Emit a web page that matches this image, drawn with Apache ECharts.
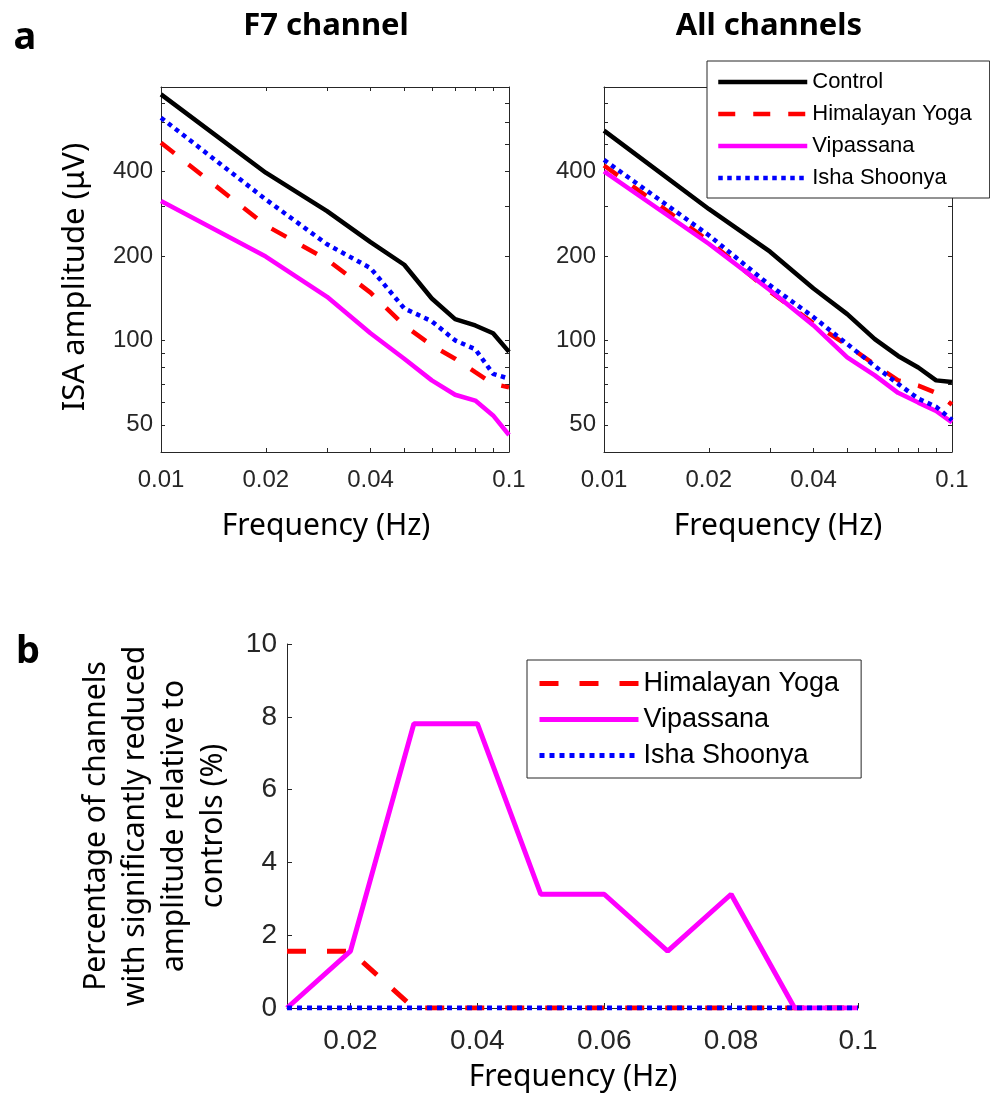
<!DOCTYPE html>
<html>
<head>
<meta charset="utf-8">
<script src="https://cdn.jsdelivr.net/npm/echarts@6/dist/echarts.min.js"></script>
<style>
  html, body { margin: 0; padding: 0; background: #fff; }
  #chart { width: 990px; height: 1098px; }
</style>
</head>
<body>
<div id="chart"></div>
<script>
const FREQS = [0.01, 0.02, 0.03, 0.04, 0.05, 0.06, 0.07, 0.08, 0.09, 0.1];

// a: ISA amplitude (uV), F7 channel
const F7_CONTROL   = [753, 396, 289, 224, 186, 141, 119, 113, 106, 91];
const F7_HIMALAYAN = [506, 257, 194, 148, 113, 96, 86, 77, 70, 68];
const F7_VIPASSANA = [314, 199, 143, 106, 86, 72, 64, 61, 54, 46];
const F7_ISHA      = [622, 318, 220, 181, 130, 117, 100, 93, 76, 73];

// a: ISA amplitude (uV), all channels
const ALL_CONTROL   = [559, 294, 207, 153, 124, 101, 88, 80, 72, 71];
const ALL_HIMALAYAN = [420, 226, 149, 115, 96, 82, 72, 69, 65, 59];
const ALL_VIPASSANA = [400, 221, 151, 113, 87, 75, 65, 60, 56, 51];
const ALL_ISHA      = [440, 237, 157, 121, 97, 81, 70, 62, 58, 52];

// b: percentage of channels with significantly reduced amplitude
const PCT_HIMALAYAN = [1.5625, 1.5625, 0, 0, 0, 0, 0, 0, 0, 0];
const PCT_VIPASSANA = [0, 1.5625, 7.8125, 7.8125, 3.125, 3.125, 1.5625, 3.125, 0, 0];
const PCT_ISHA      = [0, 0, 0, 0, 0, 0, 0, 0, 0, 0];

// tick labels
const LOG_X_LABELS = [0.01, 0.02, 0.04, 0.1];
const LOG_Y_LABELS = [50, 100, 200, 400];
const LOG_Y_TICKS  = [50, 60, 70, 80, 90, 100, 200, 300, 400, 500, 600, 700, 800];
const PCT_X_LABELS = [0.02, 0.04, 0.06, 0.08, 0.1];

const AXIS_COLOR = '#262626';
const TICK_FONT = '"Liberation Sans", Arial, sans-serif';
const TEXT_FONT = '"Noto Sans", "Open Sans", sans-serif';

const pairs = ys => FREQS.map((f, i) => [f, ys[i]]);

function logX(gridIndex, position, showLabel) {
  return {
    type: 'log', logBase: 10, gridIndex, position, min: 0.01, max: 0.1,
    axisLine: { show: true, onZero: false, lineStyle: { color: AXIS_COLOR, width: 1 } },
    axisTick: { show: true, inside: true, length: 4, customValues: FREQS,
                lineStyle: { color: AXIS_COLOR } },
    axisLabel: { show: showLabel, customValues: LOG_X_LABELS, margin: 16,
                 fontSize: 24, fontFamily: TICK_FONT, color: AXIS_COLOR,
                 formatter: v => String(v) },
    splitLine: { show: false }
  };
}

function logY(gridIndex, position, showLabel) {
  return {
    type: 'log', logBase: 10, gridIndex, position, min: 40, max: 800,
    axisLine: { show: true, onZero: false, lineStyle: { color: AXIS_COLOR, width: 1 } },
    axisTick: { show: true, inside: true, length: 4, customValues: LOG_Y_TICKS,
                lineStyle: { color: AXIS_COLOR } },
    axisLabel: { show: showLabel, customValues: LOG_Y_LABELS, margin: 8,
                 fontSize: 24, fontFamily: TICK_FONT, color: AXIS_COLOR,
                 formatter: v => String(v) },
    splitLine: { show: false }
  };
}

const STYLE_A = {
  control:   { color: '#000000', width: 4.5, type: 'solid' },
  himalayan: { color: '#ff0000', width: 4.5, type: [17, 18] },
  vipassana: { color: '#ff00ff', width: 4.5, type: 'solid' },
  isha:      { color: '#0000ff', width: 4.5, type: [4.5, 4.5] }
};
const STYLE_B = {
  himalayan: { color: '#ff0000', width: 5, type: [19, 21] },
  vipassana: { color: '#ff00ff', width: 5, type: 'solid' },
  isha:      { color: '#0000ff', width: 5, type: [5, 5] }
};

function line(name, data, axisIndex, style) {
  return {
    name, type: 'line', data, xAxisIndex: axisIndex, yAxisIndex: axisIndex,
    symbol: 'none', showSymbol: false, color: style.color,
    lineStyle: { color: style.color, width: style.width, type: style.type, cap: 'butt' },
    emphasis: { disabled: true }, silent: true
  };
}

function text(str, x, y, opts) {
  const o = opts || {};
  return {
    type: 'text', x, y, rotation: o.rotation || 0, silent: true,
    style: {
      text: str, fill: '#000',
      font: (o.weight || 'normal') + ' ' + (o.size || 30) + 'px ' + (o.family || TEXT_FONT),
      lineHeight: o.lineHeight,
      align: o.align || 'center', textAlign: o.align || 'center',
      verticalAlign: 'middle', textVerticalAlign: 'middle'
    }
  };
}

const chart = echarts.init(document.getElementById('chart'));

chart.setOption({
  animation: false,
  backgroundColor: '#fff',
  grid: [
    { left: 161, top: 87, width: 348, height: 365 },
    { left: 604, top: 87, width: 348, height: 365 },
    { left: 287, top: 644, width: 571, height: 364 }
  ],
  xAxis: [
    logX(0, 'bottom', true),
    logX(1, 'bottom', true),
    {
      type: 'value', gridIndex: 2, position: 'bottom', min: 0.01, max: 0.1,
      axisLine: { show: true, onZero: false, lineStyle: { color: AXIS_COLOR, width: 1 } },
      axisTick: { show: true, inside: true, length: 5, customValues: PCT_X_LABELS,
                  lineStyle: { color: AXIS_COLOR } },
      axisLabel: { customValues: PCT_X_LABELS, margin: 19, fontSize: 28,
                   fontFamily: TICK_FONT, color: AXIS_COLOR, formatter: v => String(v) },
      splitLine: { show: false }
    },
    logX(0, 'top', false),
    logX(1, 'top', false)
  ],
  yAxis: [
    logY(0, 'left', true),
    logY(1, 'left', true),
    {
      type: 'value', gridIndex: 2, position: 'left', min: 0, max: 10, interval: 2,
      axisLine: { show: true, onZero: false, lineStyle: { color: AXIS_COLOR, width: 1 } },
      axisTick: { show: true, inside: true, length: 5, lineStyle: { color: AXIS_COLOR } },
      axisLabel: { margin: 10, fontSize: 28, fontFamily: TICK_FONT, color: AXIS_COLOR },
      splitLine: { show: false }
    },
    logY(0, 'right', false),
    logY(1, 'right', false)
  ],
  legend: [
    {
      orient: 'vertical', left: 707, top: 61,
      data: ['Control', 'Himalayan Yoga', 'Vipassana', 'Isha Shoonya'],
      itemWidth: 89, itemHeight: 14, itemGap: 10,
      padding: [10, 18, 9, 9],
      itemStyle: { opacity: 0 },
      lineStyle: { width: 4.5 },
      borderColor: AXIS_COLOR, borderWidth: 1, backgroundColor: '#fff',
      textStyle: { fontSize: 22, fontFamily: TICK_FONT, color: '#000' },
      selectedMode: false
    },
    {
      orient: 'vertical', left: 527, top: 660,
      data: ['Himalayan Yoga (b)', 'Vipassana (b)', 'Isha Shoonya (b)'],
      formatter: n => n.replace(' (b)', ''),
      itemWidth: 99, itemHeight: 14, itemGap: 9,
      padding: [10, 22, 9, 10],
      itemStyle: { opacity: 0 },
      lineStyle: { width: 5 },
      borderColor: AXIS_COLOR, borderWidth: 1, backgroundColor: '#fff',
      textStyle: { fontSize: 27, fontFamily: TICK_FONT, color: '#000' },
      selectedMode: false
    }
  ],
  series: [
    line('Control', pairs(F7_CONTROL), 0, STYLE_A.control),
    line('Himalayan Yoga', pairs(F7_HIMALAYAN), 0, STYLE_A.himalayan),
    line('Vipassana', pairs(F7_VIPASSANA), 0, STYLE_A.vipassana),
    line('Isha Shoonya', pairs(F7_ISHA), 0, STYLE_A.isha),
    line('Control', pairs(ALL_CONTROL), 1, STYLE_A.control),
    line('Himalayan Yoga', pairs(ALL_HIMALAYAN), 1, STYLE_A.himalayan),
    line('Vipassana', pairs(ALL_VIPASSANA), 1, STYLE_A.vipassana),
    line('Isha Shoonya', pairs(ALL_ISHA), 1, STYLE_A.isha),
    line('Himalayan Yoga (b)', pairs(PCT_HIMALAYAN), 2, STYLE_B.himalayan),
    line('Vipassana (b)', pairs(PCT_VIPASSANA), 2, STYLE_B.vipassana),
    line('Isha Shoonya (b)', pairs(PCT_ISHA), 2, STYLE_B.isha)
  ],
  graphic: [
    text('a', 25, 38, { weight: 'bold', size: 38 }),
    text('b', 28, 652, { weight: 'bold', size: 38 }),
    text('F7 channel', 326, 26, { weight: 'bold', size: 31 }),
    text('All channels', 769, 26, { weight: 'bold', size: 31 }),
    text('ISA amplitude (\u03bcV)', 75, 277, { rotation: Math.PI / 2, size: 31 }),
    text('Frequency (Hz)', 326, 526),
    text('Frequency (Hz)', 778, 526),
    text('Percentage of channels\nwith significantly reduced\namplitude relative to\ncontrols (%)',
         155, 826, { rotation: Math.PI / 2, lineHeight: 39 }),
    text('Frequency (Hz)', 573, 1077)
  ]
});
</script>
</body>
</html>
